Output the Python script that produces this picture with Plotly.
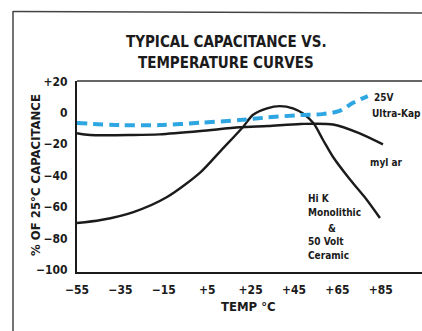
import plotly.graph_objects as go

# ---- data ----
temp_ultrakap = [-55, -35, -17, 2, 20, 33, 48, 58, 66, 72, 79]
ultrakap = [-6.5, -7.8, -7.8, -6.3, -4.6, -2.9, -1.4, -0.8, 1.2, 6.3, 10.7]

temp_mylar = [-55, -49, -29, -17, 2, 20, 33, 48, 63, 75, 86]
mylar = [-13, -14.1, -14.1, -13.7, -11.6, -9.2, -8.4, -7.1, -7.4, -12.9, -20.1]

temp_hik = [-55, -44, -29, -13.5, 2, 11, 21.5, 26, 32.6, 38.5, 44.5, 49, 54, 58.4, 63, 71, 78.6, 84.6]
hik = [-70.2, -68.3, -63.2, -53.6, -37.7, -24.5, -9, -1.4, 2.9, 4.3, 2.9, -0.3, -6.7, -17.3, -28.1, -42.8, -55.5, -67]

x_tickvals = [-55, -35, -15, 5, 25, 45, 65, 85]
x_ticktext = ["\u221255", "\u221235", "\u221215", "+5", "+25", "+45", "+65", "+85"]
y_tickvals = [20, 0, -20, -40, -60, -80, -100]
y_ticktext = ["+20", "0", "\u221220", "\u221240", "\u221260", "\u221280", "\u2212100"]

title_lines = ["TYPICAL CAPACITANCE VS.", "TEMPERATURE CURVES"]
y_title = "% OF 25\u00b0C CAPACITANCE"
x_title = "TEMP \u00b0C"

# ---- layout geometry (page margin removed by post_script) ----
OFF = 0
W, H = 422, 331
L, R, T = 77, 0, 81
B = H - 272
PW, PH = W - L - R, H - T - B

def px(x):
    return (x - OFF - L) / PW

def py(y):
    return (H - B - (y - OFF)) / PH

FONT = "Liberation Sans Narrow, DejaVu Sans Condensed, Arial Narrow, Liberation Sans, sans-serif"
INK = "#1b1b1b"

fig = go.Figure()
fig.add_trace(go.Scatter(x=temp_mylar, y=mylar, mode="lines",
                         line=dict(color=INK, width=2.4, shape="spline", smoothing=0.8),
                         hoverinfo="skip"))
fig.add_trace(go.Scatter(x=temp_hik, y=hik, mode="lines",
                         line=dict(color=INK, width=2.4, shape="spline", smoothing=0.8),
                         hoverinfo="skip"))
fig.add_trace(go.Scatter(x=temp_ultrakap, y=ultrakap, mode="lines",
                         line=dict(color="#2ea6e2", width=4, dash="10px,6px",
                                   shape="spline", smoothing=0.8),
                         hoverinfo="skip"))

fig.update_xaxes(range=[-55, -55 + PW / 2.17], tickvals=x_tickvals, ticktext=x_ticktext,
                 showgrid=False, zeroline=False, showline=True, linecolor=INK, linewidth=2,
                 mirror=False, ticks="", ticklabelstandoff=6,
                 tickfont=dict(family=FONT, size=12, color=INK, weight="bold"))
fig.update_yaxes(range=[-101.4, 20.3], tickvals=y_tickvals, ticktext=y_ticktext,
                 showgrid=False, zeroline=False, showline=True, linecolor=INK, linewidth=2,
                 mirror=False, ticks="", ticklabelstandoff=5,
                 tickfont=dict(family=FONT, size=12, color=INK, weight="bold"))

shapes = [
    # top line of plot area
    dict(type="line", xref="paper", yref="paper", x0=0, x1=px(W), y0=1, y1=1,
         line=dict(color="#333333", width=1.5)),
    # outer frame
    dict(type="line", xref="paper", yref="paper", x0=px(13), x1=px(W), y0=py(11.5), y1=py(13),
         line=dict(color="#444444", width=1.5)),
    dict(type="line", xref="paper", yref="paper", x0=px(13), x1=px(13), y0=py(11), y1=py(H),
         line=dict(color="#444444", width=1.5)),
]

def note(text, x, y, size=10, xanchor="left", angle=0):
    return dict(text=text, x=px(x), y=py(y), xref="paper", yref="paper",
                xanchor=xanchor, yanchor="middle", showarrow=False, textangle=angle,
                font=dict(family=FONT, size=size, color=INK, weight="bold"))

annotations = [
    note(title_lines[0], 226, 42, size=15, xanchor="center"),
    note(title_lines[1], 226, 63, size=15, xanchor="center"),
    note(y_title, 35, 175, size=13, xanchor="center", angle=-90),
    note(x_title, 248, 306, size=13, xanchor="center"),
    note("25V", 372, 97),
    note("Ultra-Kap", 370, 113),
    note("myl ar", 368, 162),
    note("Hi K", 306, 198),
    note("Monolithic", 306, 212),
    note("&", 332, 228, xanchor="center"),
    note("50 Volt", 306, 241),
    note("Ceramic", 306, 255),
]

fig.update_layout(width=W, height=H, margin=dict(l=L, r=R, t=T, b=B),
                  paper_bgcolor="white", plot_bgcolor="white", showlegend=False,
                  shapes=shapes, annotations=annotations)

page_css = ("document.documentElement.style.overflow='hidden';"
            "document.body.style.margin='0';"
            "document.body.style.overflow='hidden';")

fig.write_html("out.html", config={"displayModeBar": False}, post_script=page_css)
